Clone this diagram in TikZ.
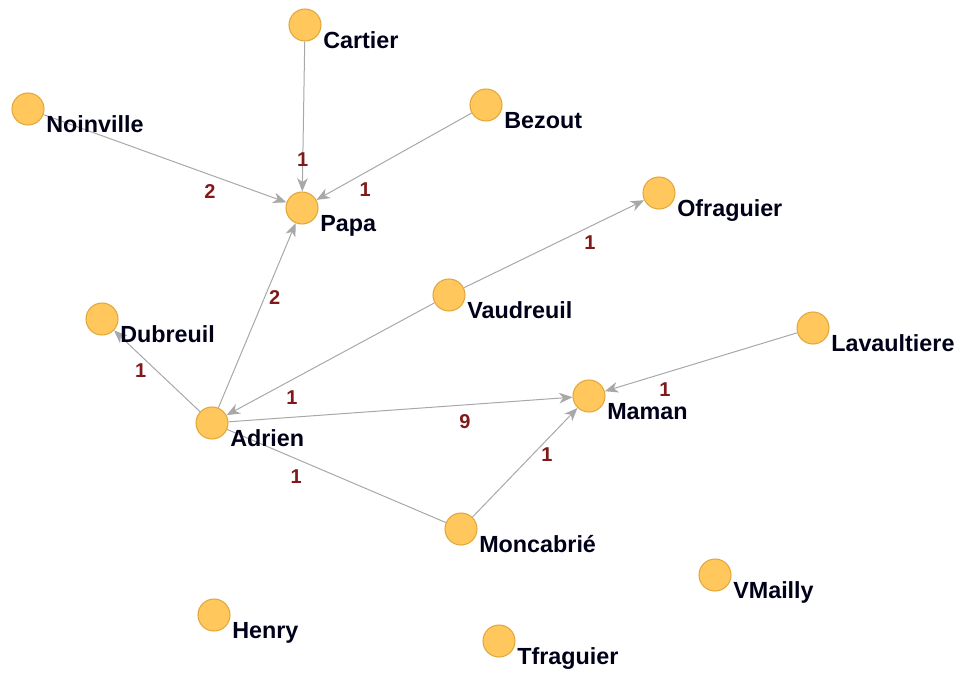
\documentclass[tikz,border=0pt]{standalone}
\usepackage{fontspec}
\setmainfont{Liberation Sans}
\usepackage{xcolor}
\usepackage{tikz}
\usetikzlibrary{arrows.meta, backgrounds}

\definecolor{nodefill}{RGB}{255,199,92}
\definecolor{nodeline}{RGB}{226,168,60}
\definecolor{edgegray}{RGB}{168,168,168}
\definecolor{weightred}{RGB}{128,26,26}

\begin{document}
\begin{tikzpicture}[x=0.75pt, y=-0.75pt,
    person/.style={draw=nodeline, fill=nodefill, circle, minimum size=24pt, inner sep=0pt, line width=0.8pt},
    who/.style={anchor=base west, inner sep=0pt, font=\fontsize{17.5}{20}\selectfont\bfseries, text=black!90!blue},
    link/.style={draw=edgegray, line width=0.75pt},
    arr/.style={link, -{Stealth[length=10pt, width=8pt, inset=3pt]}},
    weight/.style={font=\fontsize{15}{18}\selectfont\bfseries, text=weightred, inner sep=0pt}]
  \useasboundingbox (0,0) rectangle (963,675);

  % people
  \foreach \n/\x/\y/\t in {cartier/305/25/Cartier, noinville/28/109/Noinville, bezout/486/105/Bezout,
      papa/302/208/Papa, ofraguier/659/193/Ofraguier, vaudreuil/449/295/Vaudreuil,
      dubreuil/102/319/Dubreuil, lavaultiere/813/328/Lavaultiere, adrien/212/423/Adrien,
      maman/589/396/Maman, moncabrie/461/529/Moncabrié, vmailly/715/575/VMailly,
      henry/214/615/Henry, tfraguier/499/641/Tfraguier} {
    \node[person] (\n) at (\x,\y) {};
    \node[who] (\n-name) at ([shift={(18,23)}]\n) {\t};
  }

  % links with weights
  \begin{scope}[on background layer]
    \foreach \a/\b/\w/\p/\dx/\dy in {cartier/papa/1/0.79/0pt/0pt, noinville/papa/2/0.685/0pt/-12.75pt,
        bezout/papa/1/0.686/0pt/-13pt, adrien/papa/2/0.60/7.5pt/0pt,
        vaudreuil/ofraguier/1/0.70/0pt/-12.4pt, vaudreuil/adrien/1/0.685/0pt/-13.5pt,
        adrien/dubreuil/1/0.69/0pt/-11pt, adrien/maman/9/0.687/0pt/-12.75pt,
        lavaultiere/maman/1/0.687/0pt/-12.75pt, moncabrie/maman/1/0.57/11pt/0pt} {
      \draw[arr] (\a) -- node[weight, pos=\p, xshift=\dx, yshift=\dy] {\w} (\b);
    }
    \draw[link] (adrien) -- node[weight, pos=0.316, yshift=-13.5pt] {1} (moncabrie);
  \end{scope}
\end{tikzpicture}
\end{document}
